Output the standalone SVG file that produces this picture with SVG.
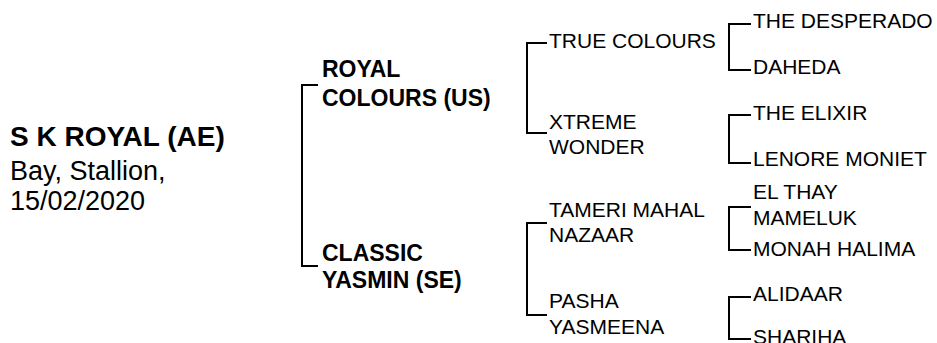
<svg xmlns="http://www.w3.org/2000/svg" width="937" height="343" viewBox="0 0 937 343">
<style>
text{font-family:"Liberation Sans",Arial,sans-serif;fill:#000}
.root{font-size:27px}
.rb{font-size:28px;font-weight:bold}
.g1{font-size:23px;font-weight:bold}
.g{font-size:21px}
.con path{fill:none;stroke:#000;stroke-width:2}
</style>
<rect width="937" height="343" fill="#fff"/>
<g class="con" id="connectors">
<path d="M318,85H302V266H318"/>
<path d="M547,43H527V133H547"/>
<path d="M547,223H527V315H547"/>
<path d="M751,24H729V70H751"/>
<path d="M751,115H729V163H751"/>
<path d="M751,207H729V250H751"/>
<path d="M751,297H729V339H751"/>
</g>
<g id="root"><text class="rb" x="10" y="146">S K ROYAL (AE)</text><text class="root" x="10" y="180">Bay, Stallion,</text><text class="root" x="10" y="210">15/02/2020</text></g>
<g id="sire"><text class="g1" x="322" y="77">ROYAL</text><text class="g1" x="322" y="105.5">COLOURS (US)</text></g>
<g id="dam"><text class="g1" x="322" y="260.5">CLASSIC</text><text class="g1" x="322" y="288">YASMIN (SE)</text></g>
<g id="ss"><text class="g" x="549" y="48">TRUE COLOURS</text></g>
<g id="sd"><text class="g" x="549" y="129">XTREME</text><text class="g" x="549" y="154">WONDER</text></g>
<g id="ds"><text class="g" x="549" y="216.5">TAMERI MAHAL</text><text class="g" x="549" y="241.5">NAZAAR</text></g>
<g id="dd"><text class="g" x="549" y="308">PASHA</text><text class="g" x="549" y="334">YASMEENA</text></g>
<g id="sss"><text class="g" x="753" y="27.5">THE DESPERADO</text></g>
<g id="ssd"><text class="g" x="753" y="74">DAHEDA</text></g>
<g id="sds"><text class="g" x="753" y="120">THE ELIXIR</text></g>
<g id="sdd"><text class="g" x="753" y="166">LENORE MONIET</text></g>
<g id="dss"><text class="g" x="753" y="198.5">EL THAY</text><text class="g" x="753" y="225">MAMELUK</text></g>
<g id="dsd"><text class="g" x="753" y="256">MONAH HALIMA</text></g>
<g id="dds"><text class="g" x="753" y="301">ALIDAAR</text></g>
<g id="ddd"><text class="g" x="753" y="344">SHARIHA</text></g>
</svg>
